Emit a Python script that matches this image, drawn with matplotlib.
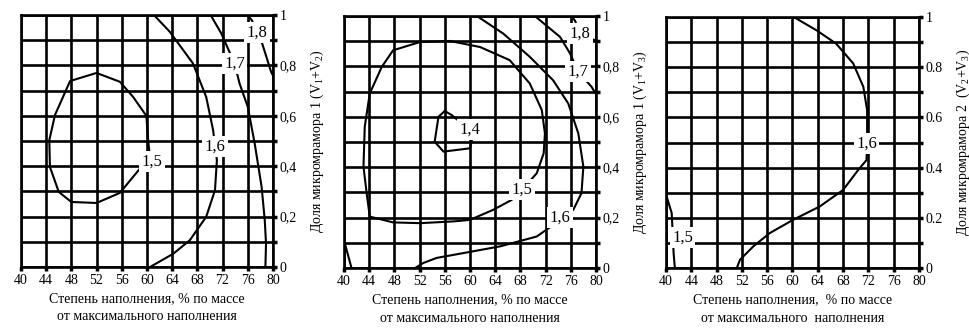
import numpy as np
import matplotlib.pyplot as plt

plt.rcParams['font.family'] = ['Liberation Serif', 'DejaVu Serif']
plt.rcParams['mathtext.fontset'] = 'custom'
plt.rcParams['mathtext.rm'] = 'Liberation Serif'
plt.rcParams['mathtext.it'] = 'Liberation Serif'

x_ticks = list(range(40, 81, 4))
y_ticks = [0, 0.2, 0.4, 0.6, 0.8, 1]
y_labels_comma = ["0", "0,2", "0,4", "0,6", "0,8", "1"]
y_labels_dot = ["0", "0.2", "0.4", "0.6", "0.8", "1"]

# panel 1 contours (x - filling %, y - share of micromarble 1)
p1_15_x = [60.2, 59.9, 57.8, 55.7, 52.0, 47.8, 45.4, 44.5, 44.6, 46.0, 48.0, 52.0, 55.7, 58.9, 60.5, 60.2]
p1_15_y = [0.50, 0.60, 0.675, 0.735, 0.77, 0.738, 0.603, 0.503, 0.397, 0.298, 0.258, 0.254, 0.294, 0.391, 0.43, 0.50]
p1_16_x = [61.1, 63.6, 67.3, 69.4, 70.5, 71.1, 70.8, 69.4, 66.8, 64.2, 60.5]
p1_16_y = [1.0, 0.934, 0.808, 0.675, 0.543, 0.424, 0.305, 0.199, 0.106, 0.053, 0.0]
p1_17_x = [70.1, 71.8, 73.9, 74.7, 76.0, 77.1, 78.2, 78.7, 78.9, 78.8]
p1_17_y = [1.0, 0.927, 0.808, 0.728, 0.636, 0.490, 0.318, 0.185, 0.093, 0.0]
p1_18_x = [76.0, 76.7, 77.4, 78.2, 79.7, 80.0]
p1_18_y = [1.0, 0.977, 0.927, 0.894, 0.775, 0.76]

# panel 2 contours
p2_14_x = [56.0, 57.1, 60.0, 60.3, 60.0, 55.8, 54.4, 55.0, 56.0]
p2_14_y = [0.623, 0.607, 0.547, 0.508, 0.475, 0.462, 0.501, 0.60, 0.623]
p2_15_x = [68.5, 70.6, 71.7, 71.9, 71.4, 69.5, 66.3, 61.6, 56.8, 52.1, 47.8, 46.0, 44.1, 43.3,
           43.1, 43.6, 44.1, 47.8, 52.1, 57.4, 60.0, 63.7, 66.6, 68.5]
p2_15_y = [0.317, 0.376, 0.455, 0.534, 0.627, 0.732, 0.825, 0.877, 0.901, 0.897, 0.864, 0.798, 0.693, 0.561,
           0.402, 0.297, 0.204, 0.181, 0.178, 0.185, 0.191, 0.231, 0.270, 0.317]
p2_16_x = [61.1, 65.3, 69.5, 73.2, 75.6, 77.2, 78.0, 77.7, 76.4, 74.3, 70.6, 64.8, 58.9, 54.7, 52.6, 51.3]
p2_16_y = [1.0, 0.930, 0.838, 0.745, 0.653, 0.534, 0.402, 0.297, 0.231, 0.19, 0.125, 0.086, 0.059, 0.040, 0.020, 0.0]
p2_16b_x = [40.2, 41.2]
p2_16b_y = [0.092, 0.0]
p2_17_x = [70.3, 74.3, 75.9, 77.2, 79.3, 80.0]
p2_17_y = [1.0, 0.917, 0.851, 0.778, 0.719, 0.69]
p2_18_x = [76.1, 76.7, 77.4, 79.8, 80.0]
p2_18_y = [1.0, 0.98, 0.93, 0.904, 0.90]

# panel 3 contours (share of micromarble 2)
p3_16_x = [60.2, 63.8, 66.9, 69.6, 71.2, 71.8, 71.8, 71.7, 70.4, 68.0, 64.3, 60.1, 56.4, 53.8, 51.7, 51.2]
p3_16_y = [1.0, 0.947, 0.894, 0.815, 0.722, 0.629, 0.5, 0.430, 0.391, 0.311, 0.245, 0.192, 0.139, 0.086, 0.033, 0.0]
p3_15_x = [40.1, 40.9, 41.1, 41.2, 41.4]
p3_15_y = [0.285, 0.219, 0.12, 0.06, 0.0]

panels = [
    {
        "pos": [0.0216, 0.1934, 0.2598, 0.7613],
        "lines": [(p1_15_x, p1_15_y), (p1_16_x, p1_16_y), (p1_17_x, p1_17_y), (p1_18_x, p1_18_y)],
        "labels": [("1,5", 60.8, 0.42), ("1,6", 70.8, 0.477), ("1,7", 73.9, 0.808), ("1,8", 77.5, 0.93)],
        "ylabel": r"Доля микромрамора 1 (V$_1$+V$_2$)",
        "yticklabels": y_labels_comma,
        "xlabel": "Степень наполнения, % по массе\nот максимального наполнения",
    },
    {
        "pos": [0.3546, 0.1903, 0.2598, 0.7613],
        "lines": [(p2_14_x, p2_14_y), (p2_15_x, p2_15_y), (p2_16_x, p2_16_y), (p2_16b_x, p2_16b_y),
                  (p2_17_x, p2_17_y), (p2_18_x, p2_18_y)],
        "labels": [("1,4", 60.0, 0.55), ("1,5", 68.3, 0.31), ("1,6", 74.3, 0.2), ("1,7", 77.2, 0.778),
                   ("1,8", 77.5, 0.93)],
        "ylabel": r"Доля микромрамора 1 (V$_1$+V$_3$)",
        "yticklabels": y_labels_comma,
        "xlabel": "Степень наполнения, % по массе\nот максимального наполнения",
    },
    {
        "pos": [0.6866, 0.1903, 0.2608, 0.7583],
        "lines": [(p3_16_x, p3_16_y), (p3_15_x, p3_15_y)],
        "labels": [("1,6", 71.7, 0.497), ("1,5", 42.6, 0.12)],
        "ylabel": r"Доля микромрамора 2  (V$_2$+V$_3$)",
        "yticklabels": y_labels_dot,
        "xlabel": "Степень наполнения,  % по массе\nот максимального  наполнения",
    },
]

fig = plt.figure(figsize=(9.7, 3.31), dpi=100)

for p in panels:
    ax = fig.add_axes(p["pos"])
    ax.set_xlim(40, 80)
    ax.set_ylim(0, 1)
    ax.set_xticks(x_ticks)
    ax.set_yticks(y_ticks)
    ax.set_yticks(np.arange(0.1, 1.0, 0.2), minor=True)
    ax.set_yticklabels(p["yticklabels"])
    ax.yaxis.tick_right()
    ax.yaxis.set_label_position("right")
    ax.grid(True, which="both", color="black", linewidth=1.9)
    ax.set_axisbelow(True)
    for s in ax.spines.values():
        s.set_linewidth(1.9)
    ax.tick_params(axis="both", which="both", direction="out", length=3, width=2.5,
                   labelsize=10, pad=2)

    for xs, ys in p["lines"]:
        ax.plot(xs, ys, color="black", linewidth=1.5, zorder=3)

    for txt, lx, ly in p["labels"]:
        ax.text(lx, ly, txt, fontsize=12, ha="center", va="center", zorder=4,
                bbox=dict(boxstyle="square,pad=0.15", facecolor="white", edgecolor="none"))

    ax.set_ylabel(p["ylabel"], fontsize=10, rotation=90, labelpad=8)
    ax.set_xlabel(p["xlabel"], fontsize=10, linespacing=1.5, labelpad=4)

plt.savefig("out.png", dpi=100)
plt.close()
